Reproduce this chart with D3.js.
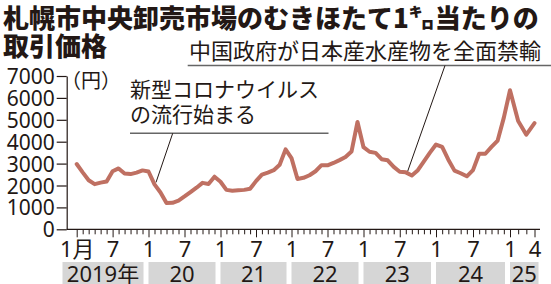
<!DOCTYPE html>
<html><head><meta charset="utf-8">
<script src="https://cdn.jsdelivr.net/npm/d3@7"></script>
<style>
html,body{margin:0;padding:0;background:#fff;}
svg{display:block;}
text{font-family:"Noto Sans","Noto Sans CJK JP",sans-serif;fill:#231815;}
.jp{font-family:"Noto Sans CJK JP","Noto Sans",sans-serif;}
</style></head>
<body>
<script>
// ---- data ----
const startYear = 2019;
// monthly price (yen per kg), Jan 2019 – Apr 2025
const prices2019 = [2980,2600,2240,2060,2130,2180,2650,2780,2550,2520,2590,2690];
const prices2020 = [2640,2050,1680,1200,1210,1310,1500,1700,1900,2120,2070,2400];
const prices2021 = [2170,1800,1765,1780,1800,1850,2200,2500,2590,2700,2950,3650];
const prices2022 = [3250,2300,2350,2470,2650,2930,2920,3030,3160,3300,3550,4900];
const prices2023 = [3750,3540,3490,3200,3150,2850,2630,2600,2460,2700,3100,3500];
const prices2024 = [3870,3760,3180,2680,2560,2420,2700,3450,3450,3760,4050,5100];
const prices2025 = [6350,4950,4320,4850];
const prices = [].concat(prices2019,prices2020,prices2021,prices2022,prices2023,prices2024,prices2025);

const yTicks = [0,1000,2000,3000,4000,5000,6000,7000];
const xMajorTicks = [0,6,12,18,24,30,36,42,48,54,60,66,72,75];
const xMajorLabels = ["1月","7","1","7","1","7","1","7","1","7","1","7","1","4"];
const yearLabels = ["2019年","20","21","22","23","24","25"];
const titleLines = ["札幌市中央卸売市場のむきほたて1㌔当たりの","取引価格"];
const unitLabel = "（円）";
const noteCovid = ["新型コロナウイルス","の流行始まる"];
const noteCovidMonth = 13;
const noteBan = "中国政府が日本産水産物を全面禁輸";
const noteBanMonth = 55;

// ---- layout ----
const W = 551, H = 284;
const svg = d3.select("body").append("svg").attr("width",W).attr("height",H);

const x = d3.scaleLinear()
  .domain([0,12,24,36,48,60,72,75])
  .range([76.7,148.5,220.5,291.5,363.5,436,510,534.5]);
const y = d3.scaleLinear().domain([0,7000]).range([229.3,76]);
const axisX0 = 66.7, axisX1 = 540;

// title
const tt = svg.append("g").attr("class","jp");
tt.append("text").attr("class","jp").attr("x",3).attr("y",27.5)
  .style("font-size","26px").style("font-weight","900").text(titleLines[0]);
tt.append("text").attr("class","jp").attr("x",3).attr("y",55.5)
  .style("font-size","26px").style("font-weight","900").text(titleLines[1]);

// year boxes
const yearG = svg.append("g");
yearLabels.forEach((lab,i)=>{
  const x0 = i===0 ? 62.5 : x(12*i);
  const x1 = i===yearLabels.length-1 ? x(prices.length-1)+4 : x(12*(i+1))-5;
  yearG.append("rect").attr("x",x0).attr("y",262).attr("width",x1-x0).attr("height",24).attr("fill","#d6d6d6");
  yearG.append("text").attr("x",(x0+x1)/2).attr("y",281.5).attr("text-anchor","middle")
    .style("font-size","22px").text(lab);
});

// y axis
const yAxis = d3.axisLeft(y).tickValues(yTicks).tickSizeInner(10).tickSizeOuter(0).tickPadding(2).tickFormat(d3.format("d"));
const yg = svg.append("g").attr("transform",`translate(${axisX0},0)`).call(yAxis);
yg.select(".domain").attr("stroke","#231815").attr("stroke-width",1.2);
yg.selectAll(".tick line").attr("stroke","#231815").attr("stroke-width",1.2);
yg.selectAll(".tick text").style("font-size","21px").attr("fill","#231815").attr("dy","0.36em");

// x axis
const allMonths = d3.range(prices.length);
const xAxis = d3.axisBottom(x).tickValues(allMonths).tickSizeOuter(0).tickSizeInner(5).tickPadding(5)
  .tickFormat(d=>{const k=xMajorTicks.indexOf(d);return k>=0?xMajorLabels[k]:"";});
const xg = svg.append("g").attr("transform",`translate(0,${y(0)})`).call(xAxis);
xg.select(".domain").remove();
xg.selectAll(".tick line").attr("stroke","#231815").attr("stroke-width",1)
  .attr("y2",d=>xMajorTicks.includes(d)?8:5);
xg.selectAll(".tick text").style("font-size","22px").attr("fill","#231815")
  .attr("y",12).attr("dy","0.71em");
svg.append("line").attr("x1",axisX0).attr("x2",axisX1).attr("y1",y(0)).attr("y2",y(0))
  .attr("stroke","#231815").attr("stroke-width",1.2);

// unit label
svg.append("text").attr("class","jp").attr("x",91).attr("y",88).attr("text-anchor","middle")
  .style("font-size","20px").text(unitLabel);

// annotations
const ann = svg.append("g");
ann.append("text").attr("class","jp").attr("x",130).attr("y",97).style("font-size","21px").text(noteCovid[0]);
ann.append("text").attr("class","jp").attr("x",130).attr("y",122).style("font-size","21px").text(noteCovid[1]);
ann.append("line").attr("x1",130).attr("x2",328.5).attr("y1",133.3).attr("y2",133.3).attr("stroke","#666").attr("stroke-width",1.5);
ann.append("line").attr("x1",172.7).attr("y1",133.3)
  .attr("x2",x(noteCovidMonth)+1.5).attr("y2",y(prices[noteCovidMonth])-2)
  .attr("stroke","#231815").attr("stroke-width",1);

ann.append("text").attr("class","jp").attr("x",189).attr("y",58.5).style("font-size","22px").text(noteBan);
ann.append("line").attr("x1",187.7).attr("x2",551).attr("y1",65.5).attr("y2",65.5).attr("stroke","#666").attr("stroke-width",1.5);

// price line
const line = d3.line().x((d,i)=>x(i)).y(d=>y(d));
svg.append("path").datum(prices).attr("d",line).attr("fill","none")
  .attr("stroke","#bf7062").attr("stroke-width",4).attr("stroke-linejoin","round").attr("stroke-linecap","round");

ann.append("line").attr("x1",445).attr("y1",65.5)
  .attr("x2",x(noteBanMonth)+1.5).attr("y2",y(prices[noteBanMonth]))
  .attr("stroke","#231815").attr("stroke-width",1);
</script>
</body></html>
